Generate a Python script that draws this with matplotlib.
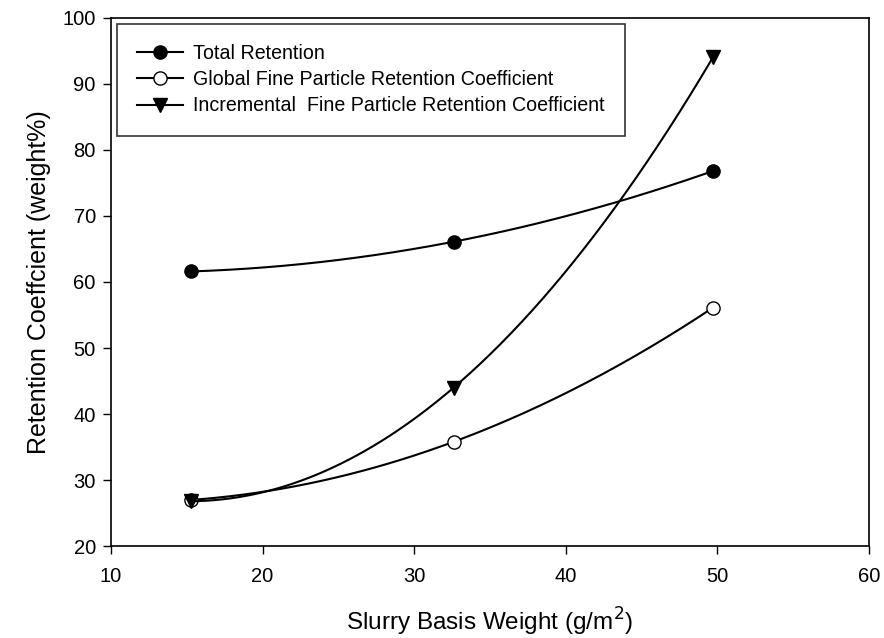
import numpy as np
import matplotlib
matplotlib.use('Agg')
import matplotlib.pyplot as plt

plt.rcParams['font.family'] = ['Liberation Sans', 'DejaVu Sans']

# Dados
basis_weight = [15.3, 32.6, 49.7]
total_retention = [61.6, 66.1, 76.8]
global_fine = [27.0, 35.8, 56.1]
incremental_fine = [26.8, 44.0, 94.0]


def smooth(x, y):
    # curva suave passando pelos 3 pontos
    coef = np.polyfit(x, y, 2)
    xs = np.linspace(min(x), max(x), 200)
    return xs, np.polyval(coef, xs)


fig = plt.figure(figsize=(8.84, 6.38), dpi=100)
ax = fig.add_axes([0.1256, 0.144, 0.8574, 0.828])

series = [
    ('Total Retention', total_retention, 'o', 'black'),
    ('Global Fine Particle Retention Coefficient', global_fine, 'o', 'white'),
    ('Incremental  Fine Particle Retention Coefficient', incremental_fine, 'v', 'black'),
]

for label, vals, mk, fc in series:
    xs, ys = smooth(basis_weight, vals)
    ax.plot(xs, ys, color='black', lw=1.5)
    ax.plot(basis_weight, vals, linestyle='none', marker=mk, ms=9.5,
            mfc=fc, mec='black', mew=1.0)
    # entrada da legenda
    ax.plot([], [], color='black', lw=1.5, marker=mk, ms=9.5, mfc=fc,
            mec='black', mew=1.0, label=label)

ax.set_xlim(10, 60)
ax.set_ylim(20, 100)
ax.set_xticks(range(10, 61, 10))
ax.set_yticks(range(20, 101, 10))
ax.tick_params(direction='out', labelsize=14.5, length=6, width=1.0,
               top=False, right=False)
ax.tick_params(axis='x', pad=9)
ax.tick_params(axis='y', pad=5)
for s in ax.spines.values():
    s.set_linewidth(1.2)

ax.set_xlabel('Slurry Basis Weight (g/m$^2$)', fontsize=17.5, labelpad=14)
ax.set_ylabel('Retention Coeffcient (weight%)', fontsize=18, labelpad=8)

leg = ax.legend(loc='upper left', fontsize=14.1, frameon=True, fancybox=False,
                edgecolor='black', borderaxespad=0.3, handlelength=2.3,
                handletextpad=0.55, labelspacing=0.36, borderpad=1.05)
leg.get_frame().set_linewidth(1.2)

fig.savefig('out.png', dpi=100)
